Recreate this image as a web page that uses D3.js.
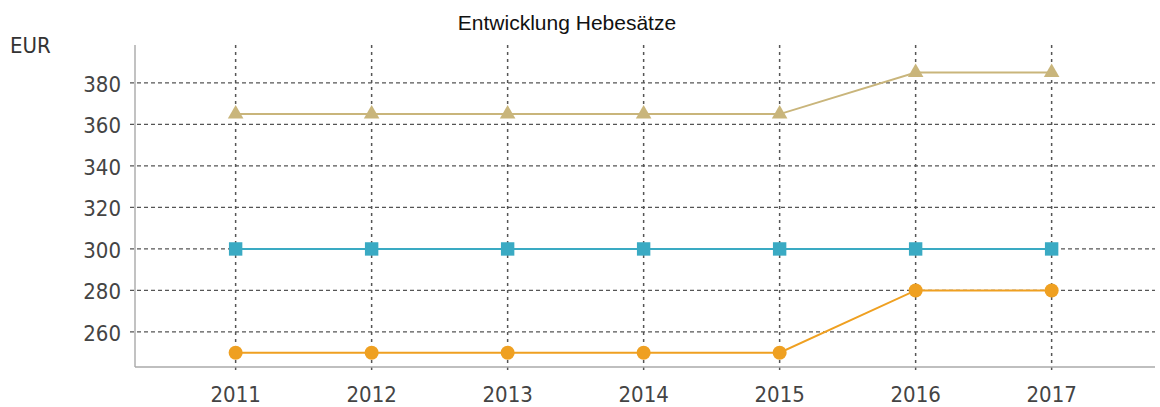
<!DOCTYPE html>
<html><head><meta charset="utf-8">
<script src="https://cdn.jsdelivr.net/npm/d3@7"></script>
<style>body{margin:0;background:#fff;}svg{display:block;}</style>
</head><body>
<script>
const years = ["2011","2012","2013","2014","2015","2016","2017"];
const grundsteuerB = [365,365,365,365,365,385,385];
const gewerbesteuer = [300,300,300,300,300,300,300];
const grundsteuerA = [250,250,250,250,250,280,280];
const yTicks = [260,280,300,320,340,360,380];
const series = [
  {name:"B", values:grundsteuerB, color:"#c9b57b", shape:d3.symbolTriangle, size:105},
  {name:"G", values:gewerbesteuer, color:"#3aaac3", shape:d3.symbolSquare, size:180},
  {name:"A", values:grundsteuerA, color:"#efa021", shape:d3.symbolCircle, size:155}
];
const W=1160,H=407;
const font="DejaVu Sans Condensed, DejaVu Sans, Verdana, sans-serif";
const svg=d3.select("body").append("svg").attr("width",W).attr("height",H);
const x=d3.scaleLinear().domain([-0.74,6.76]).range([135,1155]);
const y=d3.scaleLinear().domain([243.1,398.3]).range([367,45]);

svg.append("text").attr("x",567).attr("y",30).attr("text-anchor","middle")
  .attr("font-family","Liberation Sans, Arial, sans-serif").attr("font-size",21).attr("fill","#111")
  .text("Entwicklung Hebesätze");
svg.append("text").attr("x",10).attr("y",53)
  .attr("font-family",font).attr("font-size",22).attr("fill","#333").text("EUR");

// horizontal grid
svg.append("g").selectAll("line").data(yTicks).join("line")
  .attr("x1",130).attr("x2",1155).attr("y1",d=>y(d)).attr("y2",d=>y(d))
  .attr("stroke","#555").attr("stroke-width",1.2).attr("stroke-dasharray","4,3");
// vertical grid
svg.append("g").selectAll("line").data(years).join("line")
  .attr("x1",(d,i)=>x(i)).attr("x2",(d,i)=>x(i)).attr("y1",45).attr("y2",374)
  .attr("stroke","#555").attr("stroke-width",1.5).attr("stroke-dasharray","3,4");
// axes lines
svg.append("line").attr("x1",135).attr("x2",135).attr("y1",45).attr("y2",367).attr("stroke","#999").attr("stroke-width",1.2);
svg.append("line").attr("x1",135).attr("x2",1155).attr("y1",367).attr("y2",367).attr("stroke","#aaa").attr("stroke-width",1.5);

// y labels
svg.append("g").selectAll("text").data(yTicks).join("text")
  .attr("x",121).attr("y",d=>y(d)+9).attr("text-anchor","end")
  .attr("font-family",font).attr("font-size",22).attr("fill","#444").text(d=>d);
// x labels
svg.append("g").selectAll("text").data(years).join("text")
  .attr("x",(d,i)=>x(i)).attr("y",402).attr("text-anchor","middle")
  .attr("font-family",font).attr("font-size",22).attr("fill","#444").text(d=>d);

const line=d3.line().x((d,i)=>x(i)).y(d=>y(d));
series.forEach(s=>{
  svg.append("path").datum(s.values).attr("d",line).attr("fill","none").attr("stroke",s.color).attr("stroke-width",2);
  svg.append("g").selectAll("path").data(s.values).join("path")
    .attr("transform",(d,i)=>`translate(${x(i)},${y(d)})`)
    .attr("d",d3.symbol().type(s.shape).size(s.size))
    .attr("fill",s.color);
});
</script>
</body></html>
